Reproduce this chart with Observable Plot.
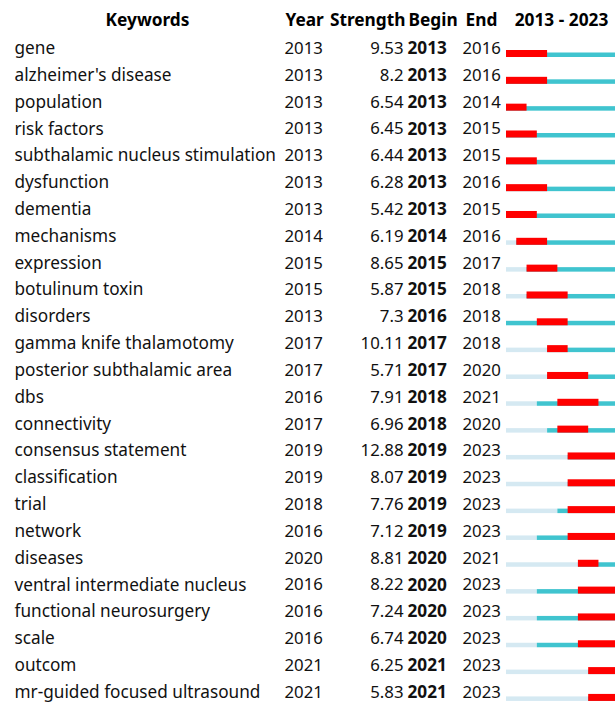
<!DOCTYPE html>
<html><head><meta charset="utf-8">
<script src="https://cdn.jsdelivr.net/npm/d3@7"></script>
<script src="https://cdn.jsdelivr.net/npm/@observablehq/plot@0.6"></script>
<style>body{margin:0;background:#fff;overflow:hidden}</style>
</head><body><div id="chart"></div>
<script>
const keywords = ["gene","alzheimer's disease","population","risk factors","subthalamic nucleus stimulation","dysfunction","dementia","mechanisms","expression","botulinum toxin","disorders","gamma knife thalamotomy","posterior subthalamic area","dbs","connectivity","consensus statement","classification","trial","network","diseases","ventral intermediate nucleus","functional neurosurgery","scale","outcom","mr-guided focused ultrasound"];
const firstYear = [2013,2013,2013,2013,2013,2013,2013,2014,2015,2015,2013,2017,2017,2016,2017,2019,2019,2018,2016,2020,2016,2016,2016,2021,2021];
const strength = [9.53,8.2,6.54,6.45,6.44,6.28,5.42,6.19,8.65,5.87,7.3,10.11,5.71,7.91,6.96,12.88,8.07,7.76,7.12,8.81,8.22,7.24,6.74,6.25,5.83];
const beginYear = [2013,2013,2013,2013,2013,2013,2013,2014,2015,2015,2016,2017,2017,2018,2018,2019,2019,2019,2019,2020,2020,2020,2020,2021,2021];
const endYear = [2016,2016,2014,2015,2015,2016,2015,2016,2017,2018,2018,2018,2020,2021,2020,2023,2023,2023,2023,2021,2023,2023,2023,2023,2023];
const headers = ["Keywords","Year","Strength","Begin","End","2013 - 2023"];
const periodStart = 2013, periodEnd = 2023;

// layout (pixel offsets of the table columns)
const headerLayout = [
  {dx:147, anchor:"middle"},{dx:285, anchor:"start"},{dx:405, anchor:"end"},
  {dx:408, anchor:"start"},{dx:465, anchor:"start"},{dx:561, anchor:"middle"}
];
const FONT = "'Noto Sans', 'Open Sans', sans-serif";

const rows = keywords.map((k,i)=>({k, year:firstYear[i], s:strength[i], b:beginYear[i], e:endYear[i]}));
const hdr = headers.map((h,i)=>({h, ...headerLayout[i]}));
const bandH = 26.83;

const textCommon = {y:"k", frameAnchor:"left", fontSize:16.8, fill:"#111", lineAnchor:"middle"};

const chart = Plot.plot({
  width: 615, height: 704,
  marginLeft: 0, marginRight: 0, marginTop: 0, marginBottom: 0,
  style: {fontFamily: FONT, background:"#fff"},
  x: {domain:[periodStart, periodEnd+1], range:[506, 619], axis:null},
  y: {type:"band", domain: keywords, range:[48 - bandH/2, 48 + 24*bandH + bandH/2], padding:0, round:false, axis:null},
  marks: [
    Plot.rect(rows.filter(d=>d.year>periodStart), {y:"k", x1:()=>periodStart, x2:"year", fill:"#d5e9f2", insetTop:bandH/2+4.5, insetBottom:bandH/2-9}),
    Plot.rect(rows, {y:"k", x1:"year", x2:()=>periodEnd+1, fill:"#40c4cf", insetTop:bandH/2+4.5, insetBottom:bandH/2-9}),
    Plot.rect(rows, {y:"k", x1:"b", x2:d=>d.e+1, fill:"#ff0000", insetTop:bandH/2+2, insetBottom:bandH/2-9}),
    Plot.text(rows, {...textCommon, text:"k", dx:14, textAnchor:"start", fontSize:17.2}),
    Plot.text(rows, {...textCommon, text:d=>String(d.year), dx:284, textAnchor:"start"}),
    Plot.text(rows, {...textCommon, text:d=>String(d.s), dx:403, textAnchor:"end"}),
    Plot.text(rows, {...textCommon, text:d=>String(d.b), dx:407, textAnchor:"start", fontWeight:"bold", fontSize:17.2}),
    Plot.text(rows, {...textCommon, text:d=>String(d.e), dx:462, textAnchor:"start"}),
    ...hdr.map(h=>Plot.text([h], {text:"h", frameAnchor:"top-left", dx:h.dx, dy:20, textAnchor:h.anchor, lineAnchor:"middle", fontSize:17.3, fontWeight:"bold", fill:"#000"}))
  ]
});
document.getElementById("chart").appendChild(chart);
</script></body></html>
